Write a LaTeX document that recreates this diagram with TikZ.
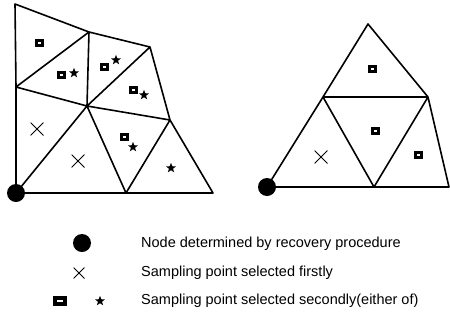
\documentclass[tikz,border=0pt]{standalone}
\usepackage{fontspec}
\setmainfont{Liberation Sans}
\usetikzlibrary{shapes.geometric}
\begin{document}
\begin{tikzpicture}[x=1pt,y=-1pt,
  edge/.style={line width=1.6pt,line join=round,line cap=round},
  sq/.style={draw=black,fill=white,line width=3pt,minimum width=6pt,minimum height=5pt,inner sep=0pt,rectangle},
  bigsq/.style={draw=black,fill=white,line width=3.6pt,minimum width=9.5pt,minimum height=6pt,inner sep=0pt,rectangle},
  st/.style={star,star points=5,star point ratio=2.4,fill=black,minimum size=10.5pt,inner sep=0pt},
  xm/.style={minimum size=#1,inner sep=0pt,path picture={\draw[line width=1pt] (path picture bounding box.north west)--(path picture bounding box.south east) (path picture bounding box.north east)--(path picture bounding box.south west);}},
  dot/.style={circle,fill=black,minimum size=18pt,inner sep=0pt},
  lbl/.style={anchor=west,font=\fontsize{14.5}{16}\selectfont,inner sep=0pt}]
\useasboundingbox (0,0) rectangle (450,322);
% left mesh vertices
\coordinate (A) at (15,4);
\coordinate (B) at (89,32);
\coordinate (C) at (150,47);
\coordinate (D) at (16,87);
\coordinate (E) at (87,106);
\coordinate (F) at (170,120);
\coordinate (G) at (16,193);
\coordinate (H) at (126,193);
\coordinate (I) at (213,193);
\draw[edge] (A)--(B)--(C) (A)--(D)--(G)--(H)--(I) (D)--(B)--(E) (C)--(E) (C)--(F)--(I) (D)--(E)--(F) (G)--(E)--(H)--(F);
% left mesh markers
\node[sq] (s1) at (39,43) {};
\node[sq] (s2) at (61,75) {};
\node[st] (t2) at (74,73) {};
\node[sq] (s3) at (104,67) {};
\node[st] (t3) at (116,60) {};
\node[sq] (s4) at (133,90) {};
\node[st] (t4) at (144,95) {};
\node[sq] (s5) at (124,137) {};
\node[st] (t5) at (133,147) {};
\node[st] (t6) at (171,168) {};
\node[xm=13pt] (x1) at (37,129) {};
\node[xm=13pt] (x2) at (78,161) {};
\node[dot] (d1) at (G) {};
% right mesh vertices
\coordinate (P) at (368,24);
\coordinate (Q) at (323,97);
\coordinate (R) at (428,97);
\coordinate (S) at (267,187);
\coordinate (T) at (374,187);
\coordinate (U) at (449,187);
\draw[edge] (S)--(Q)--(P)--(R)--(U)--(T)--(S) (Q)--(R) (Q)--(T)--(R);
\node[sq] (r1) at (372,69) {};
\node[sq] (r2) at (375,131) {};
\node[sq] (r3) at (418,155) {};
\node[xm=13pt] (x3) at (321,157) {};
\node[dot] (d2) at (S) {};
% legend
\node[dot] (ld) at (82,243) {};
\node[xm=11pt] (lx) at (79,273) {};
\node[bigsq] (ls) at (60,301) {};
\node[st,minimum size=10.5pt] (lt) at (100,301) {};
\node[lbl] (l1) at (141,244) {Node determined by recovery procedure};
\node[lbl] (l2) at (141,273) {Sampling point selected firstly};
\node[lbl] (l3) at (141,301) {Sampling point selected secondly(either of)};
\end{tikzpicture}
\end{document}
